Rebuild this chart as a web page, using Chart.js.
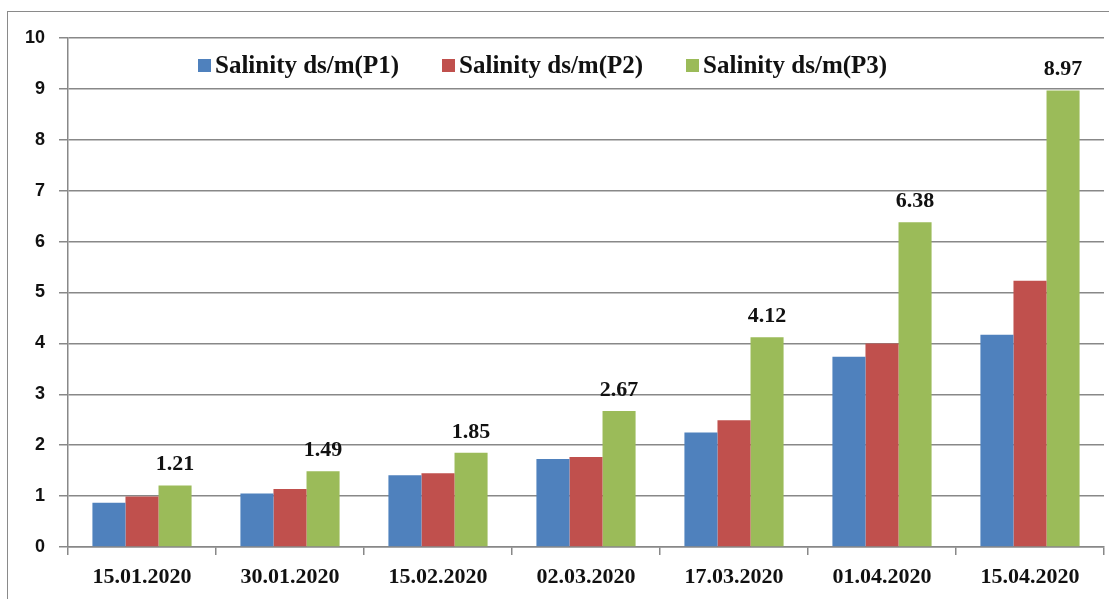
<!DOCTYPE html>
<html>
<head>
<meta charset="utf-8">
<script src="https://cdn.jsdelivr.net/npm/chart.js@4.4.0/dist/chart.umd.min.js"></script>
<style>
    html, body { margin: 0; padding: 0; background: #fff; }
    #wrap { position: relative; width: 1109px; height: 599px; overflow: hidden; }
    #frame { position: absolute; left: 7px; top: 11px; width: 1200px; height: 700px; border-left: 1.5px solid #8a8a8a; border-top: 1.5px solid #8a8a8a; }
    #salinity-chart { position: absolute; left: 0; top: 0; }
    #legend { position: absolute; left: 198px; top: 51px; display: flex; gap: 43px; font: bold 25px "Liberation Serif", "Times New Roman", serif; color: #111; white-space: nowrap; }
    .legend-item { display: flex; align-items: center; }
    .legend-color { width: 13px; height: 13px; margin-right: 4px; display: inline-block; }
</style>
</head>
<body>
<div id="wrap">
    <div id="frame"></div>
    <canvas id="salinity-chart" width="1109" height="599"></canvas>
    <div id="legend"></div>
</div>
<script>
// Data
const dates = ['15.01.2020', '30.01.2020', '15.02.2020', '02.03.2020', '17.03.2020', '01.04.2020', '15.04.2020'];
const seriesNames = ['Salinity ds/m(P1)', 'Salinity ds/m(P2)', 'Salinity ds/m(P3)'];
const p1Values = [0.87, 1.05, 1.41, 1.73, 2.25, 3.74, 4.17];
const p2Values = [0.99, 1.14, 1.45, 1.77, 2.49, 4.00, 5.23];
const p3Values = [1.21, 1.49, 1.85, 2.67, 4.12, 6.38, 8.97];
const yTicks = [0, 1, 2, 3, 4, 5, 6, 7, 8, 9, 10];

const seriesColors = ['#4F81BD', '#C0504D', '#9BBB59'];
const gridColor = '#888888';

// labels on top of the P3 bars
const valueLabels = {
    id: 'valueLabels',
    afterDatasetsDraw(chart) {
        const ctx = chart.ctx;
        const meta = chart.getDatasetMeta(2);
        ctx.save();
        ctx.font = 'bold 22px "Liberation Serif", "Times New Roman", serif';
        ctx.fillStyle = '#111';
        ctx.textAlign = 'center';
        ctx.textBaseline = 'alphabetic';
        meta.data.forEach((bar, i) => {
            ctx.fillText(p3Values[i].toFixed(2), bar.x, bar.y - 15);
        });
        ctx.restore();
    }
};

const chart = new Chart(document.getElementById('salinity-chart'), {
    type: 'bar',
    data: {
        labels: dates,
        datasets: [p1Values, p2Values, p3Values].map((vals, i) => ({
            label: seriesNames[i],
            data: vals,
            backgroundColor: seriesColors[i],
            borderWidth: 0,
            categoryPercentage: 0.67,
            barPercentage: 1.0
        }))
    },
    options: {
        responsive: false,
        animation: false,
        layout: { padding: { left: 0, right: 5, top: 38, bottom: 0 } },
        plugins: { legend: { display: false }, tooltip: { enabled: false } },
        scales: {
            x: {
                grid: { display: true, drawOnChartArea: false, color: gridColor, lineWidth: 1.5, tickLength: 8 },
                border: { color: gridColor, width: 1.5 },
                ticks: { color: '#111', padding: 9, maxRotation: 0, font: { family: '"Liberation Serif", "Times New Roman", serif', size: 22, weight: 'bold' } },
                afterFit(scale) { scale.height = 52; }
            },
            y: {
                min: 0, max: 10,
                afterBuildTicks(scale) { scale.ticks = yTicks.map(v => ({ value: v })); },
                grid: { color: gridColor, lineWidth: 1.5, tickLength: 9 },
                border: { color: gridColor, width: 1.5 },
                ticks: { color: '#111', padding: 14, font: { family: '"Liberation Sans", Arial, sans-serif', size: 18, weight: 'bold' } },
                afterFit(scale) { scale.width = 68; }
            }
        }
    },
    plugins: [valueLabels]
});

// html legend inside the plot area
document.getElementById('legend').innerHTML = seriesNames.map((n, i) =>
    `<div class="legend-item"><span class="legend-color" style="background:${seriesColors[i]}"></span><span>${n}</span></div>`).join('');
</script>
</body>
</html>
